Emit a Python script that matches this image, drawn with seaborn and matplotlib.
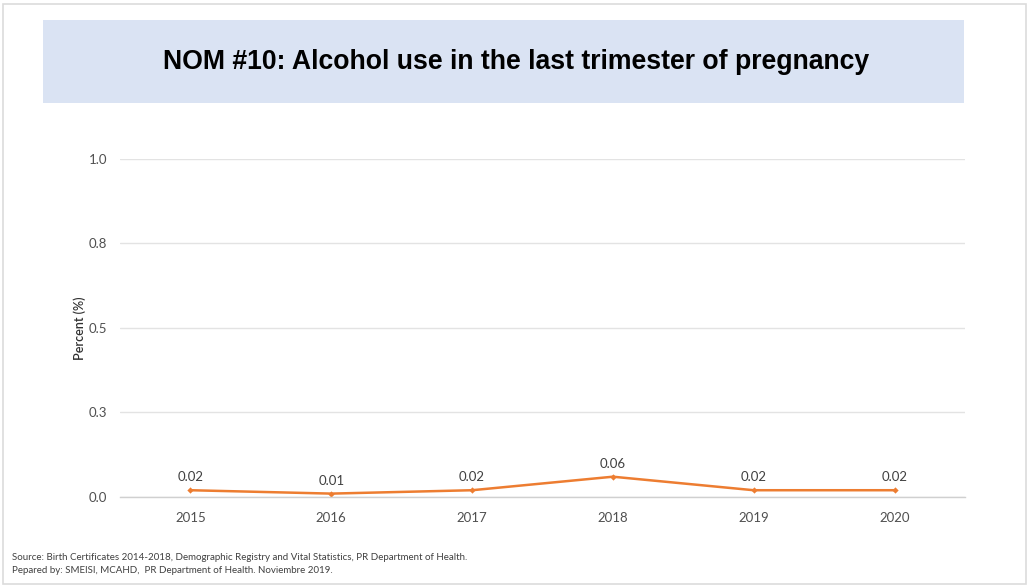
import matplotlib
matplotlib.use("Agg")
import matplotlib.pyplot as plt
import seaborn as sns
import pandas as pd
from matplotlib.patches import Rectangle

# Data
years = ["2015", "2016", "2017", "2018", "2019", "2020"]
percent = [0.02, 0.01, 0.02, 0.06, 0.02, 0.02]
y_ticks = [0.0, 0.25, 0.5, 0.75, 1.0]
y_tick_labels = ["0.0", "0.3", "0.5", "0.8", "1.0"]

title = "NOM #10: Alcohol use in the last trimester of pregnancy"
source_lines = [
    "Source: Birth Certificates 2014-2018, Demographic Registry and Vital Statistics, PR Department of Health.",
    "Pepared by: SMEISI, MCAHD,  PR Department of Health. Noviembre 2019.",
]

sns.set_theme(style="white")
plt.rcParams["font.family"] = ["Lato", "DejaVu Sans"]

df = pd.DataFrame({"Year": years, "Percent": percent})

fig = plt.figure(figsize=(10.29, 5.86), dpi=100)
fig.patch.set_facecolor("white")

# thin slide frame
fig.patches.append(Rectangle((0.003, 0.003), 0.994, 0.990, transform=fig.transFigure,
                             fill=False, edgecolor="#dcdcdc", linewidth=1.2))

# title banner
fig.patches.append(Rectangle((0.0418, 0.8242), 0.8950, 0.1417, transform=fig.transFigure,
                             facecolor="#dae3f3", edgecolor="none"))
fig.text(0.5015, 0.894, title, ha="center", va="center", fontsize=19.2,
         fontweight="bold", color="black",
         family=["Liberation Sans", "DejaVu Sans"])

ax = fig.add_axes([0.1166, 0.1519, 0.8212, 0.5768])
sns.lineplot(data=df, x="Year", y="Percent", ax=ax, color="#ed7d31", linewidth=1.8,
             marker="D", markersize=3.2, markeredgewidth=0, sort=False)

ax.set_xlim(-0.5, len(years) - 0.5)
ax.set_ylim(0, 1.0)
ax.set_yticks(y_ticks)
ax.set_yticklabels(y_tick_labels)
ax.yaxis.grid(True, color="#e3e3e3", linewidth=1)
ax.xaxis.grid(False)
for side in ["top", "right", "left"]:
    ax.spines[side].set_visible(False)
ax.spines["bottom"].set_color("#d0d0d0")
ax.spines["bottom"].set_linewidth(1)
ax.tick_params(axis="both", length=0, labelsize=9.5, labelcolor="#505050")
ax.tick_params(axis="x", pad=11)
ax.tick_params(axis="y", pad=9)
ax.set_xlabel("")
ax.set_ylabel("Percent (%)", fontsize=9, color="#303030", fontweight="semibold",
              labelpad=2)

for i, v in enumerate(percent):
    ax.annotate(f"{v:.2f}", (i, v), xytext=(0, 5), textcoords="offset points",
                ha="center", va="bottom", fontsize=9.5, color="#404040")

for k, line in enumerate(source_lines):
    fig.text(0.012, 0.048 - k * 0.021, line, ha="left", va="center",
             fontsize=7, color="#404040")

fig.savefig("out.png", dpi=100, facecolor="white")
